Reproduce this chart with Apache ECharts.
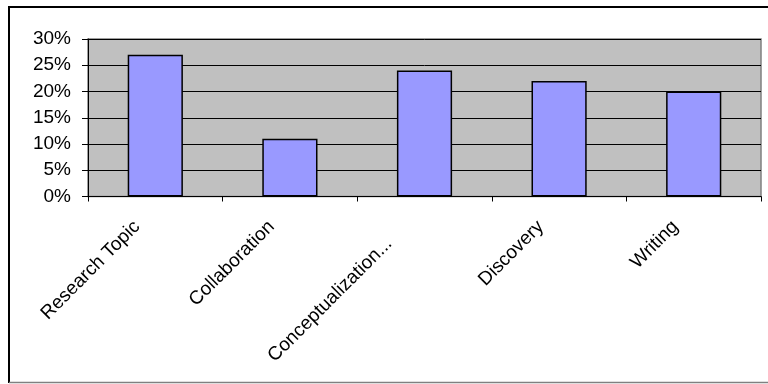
<!DOCTYPE html>
<html>
<head>
<meta charset="utf-8">
<script src="https://cdn.jsdelivr.net/npm/echarts@6/dist/echarts.min.js"></script>
<style>html,body{margin:0;padding:0;background:#fff;}#c{width:768px;height:384px;}</style>
</head>
<body>
<div id="c"></div>
<script>
var categories = ['Research Topic', 'Collaboration', 'Conceptualization...', 'Discovery', 'Writing'];
var values = [27, 11, 24, 22, 20];
var yTicks = [0, 5, 10, 15, 20, 25, 30];

// label offset tweaks (layout only)
var labelPad = [26, 26, 50, 26, 26];

var chart = echarts.init(document.getElementById('c'), null, {renderer: 'canvas'});
var font = 'Liberation Sans, Arial, sans-serif';
chart.setOption({
  animation: false,
  backgroundColor: '#ffffff',
  graphic: [
    {type: 'line', shape: {x1: 9, y1: 7, x2: 770, y2: 7}, style: {stroke: '#000', lineWidth: 2}},
    {type: 'line', shape: {x1: 9, y1: 6, x2: 9, y2: 383}, style: {stroke: '#000', lineWidth: 2}},
    {type: 'line', shape: {x1: 9, y1: 382.5, x2: 770, y2: 382.5}, style: {stroke: '#808080', lineWidth: 1.5}}
  ],
  grid: {
    left: 88, top: 39, right: 7, bottom: 187.5,
    show: true, backgroundColor: '#C0C0C0', borderColor: '#808080', borderWidth: 1.5,
    containLabel: false
  },
  xAxis: {
    type: 'category',
    data: categories.map(function (c, i) {
      return {value: c, textStyle: {padding: [0, labelPad[i], 0, 0]}};
    }),
    axisLine: {lineStyle: {color: '#000', width: 1}},
    axisTick: {show: true, length: 5, lineStyle: {color: '#000'}},
    axisLabel: {
      rotate: 45, margin: 9, padding: [0, 26, 0, 0],
      color: '#000', fontFamily: font, fontSize: 19, interval: 0
    }
  },
  yAxis: {
    type: 'value',
    min: yTicks[0], max: yTicks[yTicks.length - 1], interval: 5,
    axisLine: {show: true, lineStyle: {color: '#000', width: 1}},
    axisTick: {show: true, length: 6, lineStyle: {color: '#000'}},
    axisLabel: {formatter: '{value}%', margin: 17, color: '#000', fontFamily: font, fontSize: 19},
    splitLine: {show: true, lineStyle: {color: '#000', width: 1}}
  },
  series: [{
    type: 'bar',
    data: values,
    barWidth: '41%',
    itemStyle: {color: '#9999FF', borderColor: '#000', borderWidth: 1.5}
  }]
});
</script>
</body>
</html>
